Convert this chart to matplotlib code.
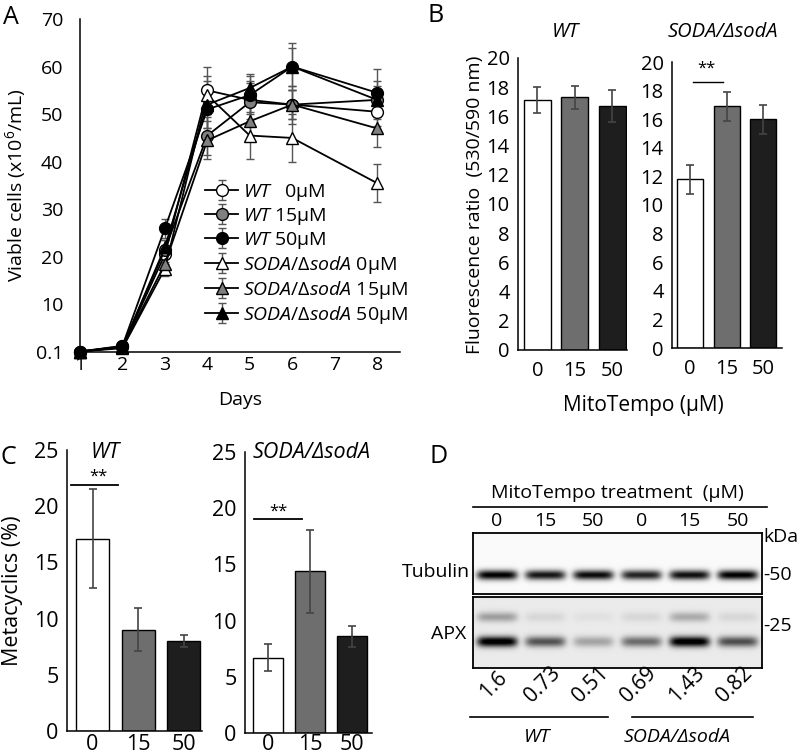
import numpy as np
import matplotlib.pyplot as plt
from matplotlib.lines import Line2D

plt.rcParams['font.family'] = ['Open Sans', 'DejaVu Sans']
plt.rcParams['mathtext.fontset'] = 'custom'
plt.rcParams['mathtext.rm'] = 'Open Sans'
plt.rcParams['mathtext.it'] = 'Open Sans:italic'

# ---- data ----
days = [1, 2, 3, 4, 5, 6, 8]
wt0 = [0.1, 1.0, 20.5, 55.0, 53.0, 52.0, 50.5]
wt15 = [0.1, 1.2, 21.5, 45.5, 52.5, 52.0, 53.0]
wt50 = [0.1, 1.3, 26.0, 51.0, 54.0, 60.0, 54.5]
soda0 = [0.1, 0.8, 17.5, 54.0, 45.5, 45.0, 35.5]
soda15 = [0.1, 1.0, 18.5, 44.5, 48.5, 52.0, 47.0]
soda50 = [0.1, 1.1, 22.0, 52.0, 55.5, 60.0, 53.0]
wt0_err = [0, 0.3, 2.0, 5.0, 4.0, 4.0, 3.0]
wt15_err = [0, 0.3, 2.0, 4.0, 4.0, 3.0, 3.0]
wt50_err = [0, 0.3, 2.0, 4.0, 4.0, 5.0, 5.0]
soda0_err = [0, 0.3, 1.5, 4.0, 5.0, 5.0, 4.0]
soda15_err = [0, 0.3, 1.5, 4.0, 4.0, 3.0, 4.0]
soda50_err = [0, 0.3, 1.5, 5.0, 3.0, 4.0, 4.0]

doses = ['0', '15', '50']
ros_wt = [17.1, 17.3, 16.7]
ros_wt_err = [0.9, 0.8, 1.1]
ros_soda = [11.8, 16.9, 16.0]
ros_soda_err = [1.0, 1.0, 1.0]

meta_wt = [17.1, 9.0, 8.0]
meta_wt_err = [4.4, 1.9, 0.5]
meta_soda = [6.7, 14.4, 8.6]
meta_soda_err = [1.2, 3.7, 0.95]

lanes = ['0', '15', '50', '0', '15', '50']
tubulin = [1.0, 0.9, 0.95, 0.85, 0.93, 1.0]
apx = [1.0, 0.6, 0.28, 0.5, 1.0, 0.62]
apx_upper = [0.3, 0.08, 0.04, 0.08, 0.25, 0.08]
apx_ratio = ['1.6', '0.73', '0.51', '0.69', '1.43', '0.82']

bar_colors = ['white', '#6e6e6e', '#1e1e1e']

W, H = 800, 755
fig = plt.figure(figsize=(8, 7.55), dpi=100)


def box(l, t, r, b):
    return [l / W, 1 - b / H, (r - l) / W, (b - t) / H]


def ftext(x, y, s, **kw):
    kw.setdefault('ha', 'center')
    kw.setdefault('va', 'center')
    fig.text(x / W, 1 - y / H, s, **kw)


def fline(x0, x1, y, lw=1.2):
    fig.add_artist(Line2D([x0 / W, x1 / W], [1 - y / H, 1 - y / H],
                          color='black', lw=lw))


def clean(ax, fs):
    ax.spines['top'].set_visible(False)
    ax.spines['right'].set_visible(False)
    for s in ['left', 'bottom']:
        ax.spines[s].set_linewidth(1.1)
    ax.tick_params(length=0, labelsize=fs)


# ---- panel A ----
axA = fig.add_axes(box(80, 19, 400, 352))
series = [
    (r'$\mathit{WT}$   0µM', wt0, wt0_err, 'white', 'o'),
    (r'$\mathit{WT}$ 15µM', wt15, wt15_err, '#808080', 'o'),
    (r'$\mathit{WT}$ 50µM', wt50, wt50_err, 'black', 'o'),
    (r'$\mathit{SODA/ΔsodA}$ 0µM', soda0, soda0_err, 'white', '^'),
    (r'$\mathit{SODA/ΔsodA}$ 15µM', soda15, soda15_err, '#808080', '^'),
    (r'$\mathit{SODA/ΔsodA}$ 50µM', soda50, soda50_err, 'black', '^'),
]
for lab, y, e, fc, m in series:
    lines = axA.errorbar(days, y, yerr=e, color='black', lw=1.3, marker=m,
                         mfc=fc, mec='black', ms=8.5, ecolor='#555555',
                         elinewidth=1, capsize=3, label=lab)
    lines.lines[0].set_clip_on(False)
axA.set_xlim(1, 8.54)
axA.set_ylim(0, 70)
axA.set_xticks(range(1, 9))
axA.set_yticks(range(0, 71, 10))
axA.set_yticklabels(['0.1'] + [str(v) for v in range(10, 71, 10)])
clean(axA, 14)
axA.tick_params(axis='y', pad=12)
axA.tick_params(axis='x', pad=3)
axA.set_xlabel('Days', fontsize=14, labelpad=12)
axA.set_ylabel(r'Viable cells (x10$^{6}$/mL)', fontsize=14, labelpad=6)
axA.legend(loc='upper left', bbox_to_anchor=(205 / W, 1 - 182 / H),
           bbox_transform=fig.transFigure, frameon=False, fontsize=14,
           handlelength=1.7, handletextpad=0.25, labelspacing=0.15,
           borderpad=0, borderaxespad=0)


# ---- bar helper ----
def bars(ax, vals, errs, xlim, ylim, yticks, fs, xpad=8):
    x = np.arange(len(vals))
    ax.bar(x, vals, width=0.72, color=bar_colors, edgecolor='black', lw=1,
           yerr=errs, error_kw=dict(ecolor='#444444', elinewidth=1.2,
                                    capsize=3, capthick=1.2))
    ax.set_xlim(*xlim)
    ax.set_ylim(*ylim)
    ax.set_yticks(yticks)
    ax.set_xticks(x)
    ax.set_xticklabels(doses)
    clean(ax, fs)
    ax.tick_params(axis='y', pad=6)
    ax.tick_params(axis='x', pad=xpad)


# ---- panel B ----
axB1 = fig.add_axes(box(518, 58, 627, 350))
bars(axB1, ros_wt, ros_wt_err, (-0.52, 2.39), (0, 20), range(0, 21, 2), 14.5)
axB2 = fig.add_axes(box(672, 62, 782, 348))
bars(axB2, ros_soda, ros_soda_err, (-0.5, 2.52), (0, 20), range(0, 21, 2), 14.5)
axB2.plot([0.08, 0.9], [18.6, 18.6], color='black', lw=1)
axB2.text(0.45, 19.0, '**', ha='center', va='bottom', fontsize=12)
ftext(565, 32, 'WT', style='italic', fontsize=14.5)
ftext(723, 32, 'SODA/ΔsodA', style='italic', fontsize=14.5)
ftext(475, 205, 'Fluorescence ratio  (530/590 nm)', rotation=90, fontsize=14)
ftext(643, 405, 'MitoTempo (µM)', fontsize=15)

# ---- panel C ----
axC1 = fig.add_axes(box(67, 450, 202, 731))
bars(axC1, meta_wt, meta_wt_err, (-0.56, 2.4), (0, 25), range(0, 26, 5), 15.5, xpad=2)
axC1.plot([-0.47, 0.56], [21.9, 21.9], color='black', lw=1.3)
axC1.text(0.12, 21.9, '**', ha='center', va='bottom', fontsize=12)
axC1.set_ylabel('Metacyclics (%)', fontsize=15.5, labelpad=8)
axC2 = fig.add_axes(box(245, 452, 372, 733))
bars(axC2, meta_soda, meta_soda_err, (-0.55, 2.48), (0, 25), range(0, 26, 5), 15.5, xpad=1)
axC2.plot([-0.33, 0.81], [19.0, 19.0], color='black', lw=1.3)
axC2.text(0.24, 19.0, '**', ha='center', va='bottom', fontsize=12)
ftext(105, 453, 'WT', style='italic', fontsize=15.5)
ftext(312, 453, 'SODA/ΔsodA', style='italic', fontsize=15.5)


# ---- panel D (western blot) ----
def blot(ax, bands, bg):
    xs = np.linspace(-0.5, 5.5, 600)
    ys = np.linspace(0, 1, 120)
    X, Y = np.meshgrid(xs, ys)
    dark = np.zeros_like(X)
    for inten, yc, sig in bands:
        for i, v in enumerate(inten):
            dark += v * np.exp(-((X - i) / 0.42) ** 6) * np.exp(-((Y - yc) / sig) ** 2)
    img = np.clip(bg - dark, 0, 1)
    ax.imshow(img, cmap='gray', vmin=0, vmax=1, aspect='auto',
              extent=(-0.5, 5.5, 1, 0), interpolation='bilinear')
    ax.set_xticks([])
    ax.set_yticks([])
    for s in ax.spines.values():
        s.set_linewidth(1.3)


axD1 = fig.add_axes(box(473, 533, 762, 594))
blot(axD1, [(tubulin, 0.69, 0.08)], 0.98)
axD2 = fig.add_axes(box(473, 597, 762, 668))
blot(axD2, [(apx, 0.63, 0.075), (apx_upper, 0.28, 0.07)], 0.92)

fline(473, 767, 507)
ftext(617, 493, 'MitoTempo treatment  (µM)', fontsize=14)
for i, lab in enumerate(lanes):
    xl = 473 + 24 + 48.2 * i
    ftext(xl, 521, lab, fontsize=14)
    ftext(xl - 3, 685, apx_ratio[i], rotation=45, fontsize=15)
ftext(763, 537, 'kDa', ha='left', fontsize=14)
ftext(763, 575, '-50', ha='left', fontsize=14)
ftext(763, 626, '-25', ha='left', fontsize=14)
ftext(470, 572, 'Tubulin', ha='right', fontsize=14)
ftext(466, 634, 'APX', ha='right', fontsize=14)
fline(470, 608, 717)
fline(632, 753, 717)
ftext(537, 737, 'WT', style='italic', fontsize=14)
ftext(677, 737, 'SODA/ΔsodA', style='italic', fontsize=14)

# ---- panel letters ----
ftext(3, 17, 'A', ha='left', fontsize=18)
ftext(428, 15, 'B', ha='left', fontsize=18)
ftext(0, 458, 'C', ha='left', fontsize=18)
ftext(430, 457, 'D', ha='left', fontsize=18)

fig.savefig('out.png', dpi=100)
